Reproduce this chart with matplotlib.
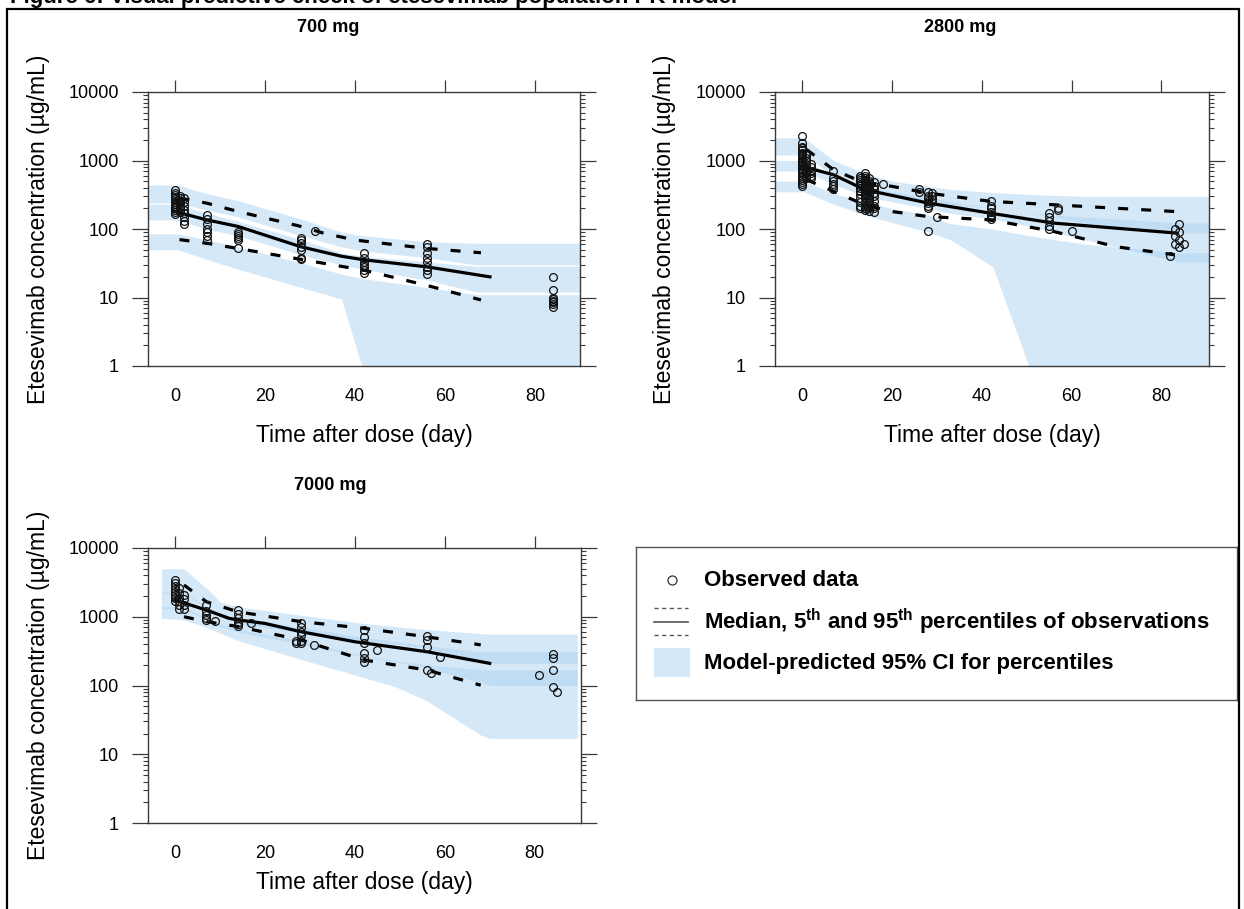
import matplotlib
matplotlib.use("Agg")
import matplotlib.pyplot as plt
from matplotlib.patches import Rectangle
from matplotlib.ticker import LogLocator, FixedLocator, FuncFormatter, NullFormatter

plt.rcParams['font.family'] = ['Liberation Sans', 'DejaVu Sans']
plt.rcParams['mathtext.fontset'] = 'custom'
plt.rcParams['mathtext.rm'] = 'Liberation Sans:bold'
plt.rcParams['lines.scale_dashes'] = False

# ---------------- data ----------------
doses = ["700 mg", "2800 mg", "7000 mg"]

# observed concentrations (day, ug/mL)
obs_700_t = [0]*13 + [1]*7 + [2]*8 + [7]*7 + [14]*6 + [28]*7 + [31] + [42]*7 + [56]*8 + [84]*8
obs_700_c = [370, 340, 310, 290, 270, 250, 235, 220, 210, 200, 190, 175, 165,
             300, 280, 260, 240, 220, 200, 180,
             280, 250, 220, 190, 170, 150, 130, 120,
             160, 140, 120, 100, 90, 80, 70,
             90, 85, 80, 75, 70, 52,
             75, 70, 62, 55, 50, 38, 36,
             95,
             45, 38, 33, 30, 28, 25, 23,
             60, 55, 45, 38, 33, 28, 25, 22,
             20, 13, 10, 9.5, 9, 8.5, 8, 7.2]

obs_2800_t = ([0]*26 + [1]*10 + [2]*6 + [7]*6 + [13]*12 + [14]*16 + [15]*14 + [16]*9 + [18]
              + [26]*2 + [28]*8 + [29]*4 + [30] + [42]*7 + [55]*5 + [57]*2 + [60]
              + [82] + [83]*3 + [84]*4 + [85])
obs_2800_c = ([2300, 1800, 1600, 1500, 1400, 1300, 1250, 1200, 1150, 1100, 1050, 1000, 950, 900,
               850, 800, 760, 720, 680, 650, 600, 560, 520, 480, 450, 420]
              + [1300, 1200, 1100, 1000, 900, 800, 700, 650, 600, 550]
              + [900, 800, 700, 650, 600, 550]
              + [700, 550, 500, 450, 420, 380]
              + [600, 550, 520, 480, 440, 400, 360, 320, 280, 250, 220, 200]
              + [650, 600, 560, 520, 500, 460, 430, 400, 370, 340, 310, 280, 250, 220, 200, 190]
              + [560, 510, 470, 430, 400, 370, 340, 310, 280, 260, 240, 220, 200, 185]
              + [480, 420, 380, 340, 300, 260, 220, 200, 180]
              + [460]
              + [380, 350]
              + [350, 300, 280, 260, 240, 220, 200, 95]
              + [330, 300, 270, 250]
              + [150]
              + [260, 220, 200, 180, 160, 150, 140]
              + [170, 150, 130, 110, 100]
              + [200, 190]
              + [95]
              + [40]
              + [100, 80, 60]
              + [120, 90, 70, 55]
              + [60])

obs_7000_t = ([0]*8 + [1]*6 + [2]*4 + [7]*5 + [9] + [14]*6 + [17] + [27]*2 + [28]*6 + [31]
              + [42]*6 + [45] + [56]*4 + [57] + [59] + [81] + [84]*4 + [85])
obs_7000_c = ([3400, 3100, 2800, 2500, 2300, 2100, 1900, 1700]
              + [2600, 2200, 1900, 1700, 1500, 1300]
              + [2100, 1800, 1500, 1300]
              + [1500, 1200, 1050, 950, 900]
              + [880]
              + [1250, 1100, 950, 850, 780, 730]
              + [820]
              + [450, 420]
              + [800, 700, 600, 550, 450, 420]
              + [390]
              + [650, 500, 420, 300, 250, 220]
              + [330]
              + [520, 460, 360, 170]
              + [150]
              + [260]
              + [140]
              + [290, 250, 170, 95]
              + [80])

# observed median / 5th / 95th percentile lines
med_700_t = [0, 7, 14, 28, 37, 42, 56, 70]
med_700_c = [180, 136, 109, 55, 40, 35.5, 28, 20]
p95_700_t = [1, 7, 14, 28, 33, 40, 56, 68]
p95_700_c = [283, 239, 180, 109, 87, 69, 52, 45]
p05_700_t = [1, 7, 14, 28, 42, 56, 68]
p05_700_c = [70, 62, 52, 36, 25, 15, 9.2]

med_2800_t = [0, 7, 14, 28, 42, 56, 83.5]
med_2800_c = [820, 620, 375, 240, 170, 122, 87]
p95_2800_t = [1, 7, 14, 20, 28, 42, 56, 83]
p95_2800_c = [1450, 735, 466, 420, 335, 253, 226, 180]
p05_2800_t = [1, 7, 14, 20, 28, 42, 56, 70, 83]
p05_2800_c = [525, 355, 225, 180, 152, 136, 92, 55, 42]

med_7000_t = [0, 7, 12, 14, 20, 28, 40, 56, 70]
med_7000_c = [1750, 1250, 950, 900, 800, 606, 433, 310, 210]
p95_7000_t = [2, 7, 14, 28, 42, 56, 68]
p95_7000_c = [2900, 1650, 1180, 850, 680, 510, 390]
p05_7000_t = [2, 7, 14, 28, 42, 56, 68]
p05_7000_c = [1000, 850, 720, 460, 235, 168, 101]

# model-predicted 95% CI bands (lo, hi) for 95th pct, median, 5th pct
ci_700_t = [-6, 0.5, 7, 14, 28, 37, 41.5, 56, 67, 90]
ci95_700_lo = [240, 240, 190, 150, 80, 55, 48, 38, 30, 30]
ci95_700_hi = [440, 440, 330, 260, 140, 90, 80, 65, 62, 62]
cimed_700_lo = [135, 135, 100, 80, 42, 30, 26, 18, 12, 12]
cimed_700_hi = [230, 230, 170, 130, 70, 45, 40, 33, 28.5, 28.5]
ci05_700_lo = [50, 50, 36, 26, 14, 9.5, 1, 1, 1, 1]
ci05_700_hi = [85, 85, 70, 55, 32, 22, 19, 14, 11, 11]

ci_2800_t = [-6, 0.5, 7, 14, 20, 28, 33, 42.5, 50.5, 56, 63, 84, 90.6]
ci95_2800_lo = [1200, 1200, 600, 380, 320, 260, 230, 200, 170, 150, 120, 88, 88]
ci95_2800_hi = [2150, 2150, 1000, 650, 500, 420, 380, 340, 320, 310, 300, 300, 300]
cimed_2800_lo = [700, 700, 450, 300, 250, 200, 170, 140, 110, 90, 70, 33, 33]
cimed_2800_hi = [1000, 1000, 600, 420, 350, 290, 250, 200, 170, 160, 150, 123, 123]
ci05_2800_lo = [350, 350, 230, 160, 125, 90, 70, 28, 1, 1, 1, 1, 1]
ci05_2800_hi = [500, 500, 330, 250, 200, 160, 120, 100, 80, 70, 60, 45, 45]

ci_7000_t = [-3, 2, 7, 10, 14, 28, 42, 49, 56, 68, 70, 89.5]
ci95_7000_lo = [2200, 2200, 1300, 1000, 800, 580, 450, 400, 350, 220, 210, 210]
ci95_7000_hi = [5000, 5000, 2600, 1650, 1400, 1050, 800, 720, 650, 570, 560, 560]
cimed_7000_lo = [1300, 1300, 900, 720, 600, 400, 260, 220, 180, 110, 100, 100]
cimed_7000_hi = [2300, 2300, 1400, 1100, 950, 700, 500, 440, 380, 310, 310, 310]
ci05_7000_lo = [950, 900, 700, 580, 450, 240, 130, 96, 60, 19, 17, 17]
ci05_7000_hi = [1400, 1400, 950, 800, 650, 450, 270, 230, 200, 170, 170, 170]

x_ticks = [0, 20, 40, 60, 80]
y_ticks = [1, 10, 100, 1000, 10000]

W, H = 1244, 909
band_color = '#add3f1'
spine_color = '#3a3a3a'


def px_box(x0, y0, x1, y1):
    return [x0 / W, 1 - y1 / H, (x1 - x0) / W, (y1 - y0) / H]


def draw_panel(ax, obs_t, obs_c, lines, ci_t, bands, xlabel_y, xmax):
    for lo, hi in bands:
        ax.fill_between(ci_t, lo, hi, color=band_color, alpha=0.5, lw=0)
    (mt, mc), (ut, uc), (lt, lc) = lines
    ax.plot(ut, uc, color='black', lw=2.3, dashes=(7.2, 9.4))
    ax.plot(lt, lc, color='black', lw=2.3, dashes=(7.2, 9.4))
    ax.plot(mt, mc, color='black', lw=2.3)
    ax.plot(obs_t, obs_c, 'o', ms=5.6, mfc='none', mec='#111111', mew=0.9)

    ax.set_yscale('log')
    ax.set_xlim(-6, xmax)
    ax.set_ylim(1, 10000)
    ax.yaxis.set_major_locator(FixedLocator(y_ticks))
    ax.yaxis.set_major_formatter(FuncFormatter(lambda v, p: f"{int(round(v))}"))
    ax.yaxis.set_minor_locator(LogLocator(base=10, subs=range(2, 10)))
    ax.yaxis.set_minor_formatter(NullFormatter())
    ax.xaxis.set_major_locator(FixedLocator(x_ticks))

    ax.tick_params(axis='y', which='major', direction='out', length=11.5, width=0.9,
                   left=True, right=True, labelsize=13, pad=9.5, color=spine_color)
    ax.tick_params(axis='y', which='minor', direction='out', length=3.6, width=0.8,
                   left=True, right=True, color=spine_color)
    ax.tick_params(axis='x', which='major', direction='out', length=8.4, width=0.9,
                   top=True, bottom=False, labelbottom=True, labelsize=13, pad=7.4,
                   color=spine_color)
    for s in ax.spines.values():
        s.set_color(spine_color)
        s.set_linewidth(1.0)

    ax.set_xlabel("Time after dose (day)", fontsize=16.5)
    ax.set_ylabel("Etesevimab concentration (µg/mL)", fontsize=16.5)
    ax.xaxis.label.set_va('center')
    ax.yaxis.label.set_va('center')
    ax.xaxis.set_label_coords(0.5, xlabel_y)
    ax.yaxis.set_label_coords(-0.2535, 0.5)


fig = plt.figure(figsize=(W / 100, H / 100), dpi=100)

ax1 = fig.add_axes(px_box(148, 92, 580, 366))
draw_panel(ax1, obs_700_t, obs_700_c,
           [(med_700_t, med_700_c), (p95_700_t, p95_700_c), (p05_700_t, p05_700_c)],
           ci_700_t,
           [(ci95_700_lo, ci95_700_hi), (cimed_700_lo, cimed_700_hi), (ci05_700_lo, ci05_700_hi)],
           -0.252, 90)

ax2 = fig.add_axes(px_box(775, 92, 1209, 366))
draw_panel(ax2, obs_2800_t, obs_2800_c,
           [(med_2800_t, med_2800_c), (p95_2800_t, p95_2800_c), (p05_2800_t, p05_2800_c)],
           ci_2800_t,
           [(ci95_2800_lo, ci95_2800_hi), (cimed_2800_lo, cimed_2800_hi), (ci05_2800_lo, ci05_2800_hi)],
           -0.252, 90.6)

ax3 = fig.add_axes(px_box(148, 548, 581, 823))
draw_panel(ax3, obs_7000_t, obs_7000_c,
           [(med_7000_t, med_7000_c), (p95_7000_t, p95_7000_c), (p05_7000_t, p05_7000_c)],
           ci_7000_t,
           [(ci95_7000_lo, ci95_7000_hi), (cimed_7000_lo, cimed_7000_hi), (ci05_7000_lo, ci05_7000_hi)],
           -0.218, 90.3)

# panel titles
for (x, y), name in zip([(328, 27), (960, 27), (330, 486)], doses):
    fig.text(x / W, 1 - y / H, name, ha='center', va='center',
             fontsize=13, fontweight='bold')

# legend panel
lg = fig.add_axes(px_box(636, 547, 1237, 700))
lg.set_xlim(636, 1237)
lg.set_ylim(700, 547)
lg.set_xticks([])
lg.set_yticks([])
for s in lg.spines.values():
    s.set_color('#555555')
    s.set_linewidth(1.0)
lg.plot([672], [580], 'o', ms=6.5, mfc='none', mec='#333333', mew=0.9)
lg.plot([654, 688], [608, 608], color='#555555', lw=1, dashes=(3, 2.5))
lg.plot([654, 688], [622, 622], color='#555555', lw=1.2)
lg.plot([654, 688], [635, 635], color='#555555', lw=1, dashes=(3, 2.5))
lg.add_patch(Rectangle((654, 648), 36, 29, color=band_color, alpha=0.5, lw=0))
legend_labels = ["Observed data",
                 r"Median, 5$^{\mathrm{th}}$ and 95$^{\mathrm{th}}$ percentiles of observations",
                 "Model-predicted 95% CI for percentiles"]
for y, txt in zip([580, 622, 663], legend_labels):
    lg.text(704, y, txt, ha='left', va='center', fontsize=16, fontweight='bold')

# page frame and the caption line running off the top edge
fig.add_artist(Rectangle((7 / W, -0.01), (1239 - 7) / W, 1.01 - 9 / H,
                         transform=fig.transFigure, fill=False, lw=1.6,
                         edgecolor='black'))
fig.text(10 / W, 1 - 3 / H, "Figure 6: Visual predictive check of etesevimab population PK model",
         ha='left', va='baseline', fontsize=16, fontweight='bold')

fig.savefig("out.png", dpi=100)
